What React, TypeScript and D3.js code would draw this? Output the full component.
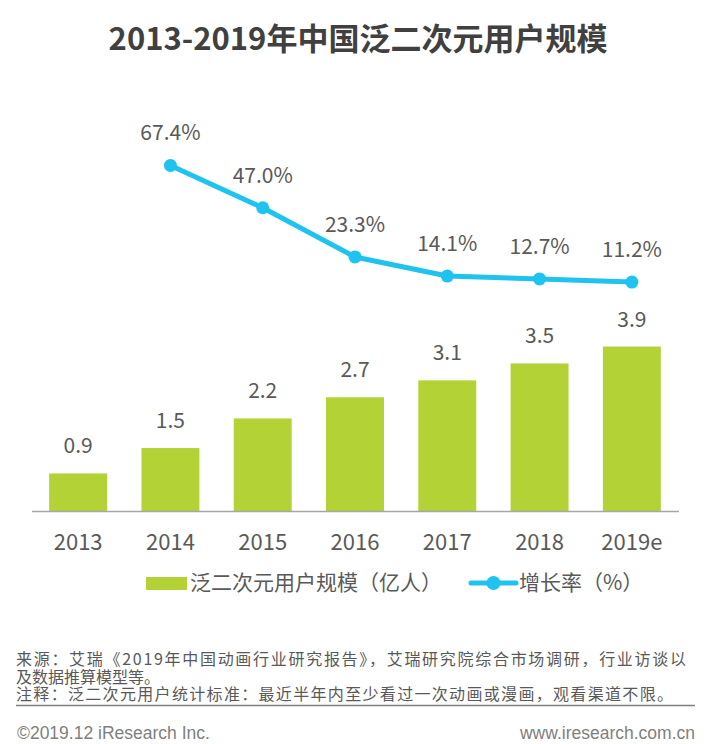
import React, { useEffect, useRef } from "react";
import * as d3 from "d3";

// data
const years = ["2013", "2014", "2015", "2016", "2017", "2018", "2019e"];
const users = [0.9, 1.5, 2.2, 2.7, 3.1, 3.5, 3.9]; // 亿人
const growth: (number | null)[] = [null, 67.4, 47.0, 23.3, 14.1, 12.7, 11.2]; // %
const barLegend = "泛二次元用户规模（亿人）";
const lineLegend = "增长率（%）";
const title = "2013-2019年中国泛二次元用户规模";
const notes = [
    "来源：艾瑞《2019年中国动画行业研究报告》，艾瑞研究院综合市场调研，行业访谈以",
    "及数据推算模型等。",
    "注释：泛二次元用户统计标准：最近半年内至少看过一次动画或漫画，观看渠道不限。",
];
const noteWidths = [670, 0, 657]; // 0 = natural width
const copyright = "©2019.12 iResearch Inc.";
const site = "www.iresearch.com.cn";

var W = 710, H = 744;
var barColor = "#b2d235";
var lineColor = "#1ec3ef";
var textColor = "#595959";
var cjk = "'Noto Sans CJK SC', 'Noto Sans', sans-serif";

function App() {
    const ref = useRef<SVGSVGElement>(null);

    useEffect(() => {
        draw();
    }, []);

    return (
        <svg ref={ref} width={W} height={H}
            style={{ position: "absolute", left: 0, top: 0, background: "#fff" }}></svg>
    );

    function draw() {
        var svg = d3.select(ref.current);
        svg.selectAll("*").remove();

        var x = d3.scaleBand<string>()
            .domain(years)
            .range([32, 678])
            .paddingInner(0.372)
            .paddingOuter(0.186);
        var yBar = d3.scaleLinear().domain([0, 4.5]).range([511.5, 321.15]);
        var yLine = d3.scaleLinear().domain([0, 80]).range([305.3, 139.3]);
        var cx = (d: string) => x(d)! + x.bandwidth() / 2;

        // title
        svg.append("text")
            .attr("x", 358)
            .attr("y", 50)
            .attr("text-anchor", "middle")
            .attr("font-family", cjk)
            .attr("font-weight", "bold")
            .attr("font-size", 31)
            .attr("fill", "#404040")
            .text(title);

        // bars
        svg.append("g")
            .selectAll("rect")
            .data(users)
            .enter()
            .append("rect")
            .attr("x", (d, i) => x(years[i])!)
            .attr("y", d => yBar(d))
            .attr("width", x.bandwidth())
            .attr("height", d => yBar(0) - yBar(d))
            .attr("fill", barColor);

        svg.append("g")
            .selectAll("text")
            .data(users)
            .enter()
            .append("text")
            .attr("x", (d, i) => cx(years[i]))
            .attr("y", d => yBar(d) - 20)
            .attr("text-anchor", "middle")
            .attr("font-family", cjk)
            .attr("font-size", 21)
            .attr("fill", textColor)
            .text(d => d.toFixed(1));

        // x axis
        svg.append("line")
            .attr("x1", 32)
            .attr("x2", 679)
            .attr("y1", yBar(0))
            .attr("y2", yBar(0))
            .attr("stroke", "#a6a6a6")
            .attr("stroke-width", 1.5);

        svg.append("g")
            .selectAll("text")
            .data(years)
            .enter()
            .append("text")
            .attr("x", d => cx(d))
            .attr("y", 550)
            .attr("text-anchor", "middle")
            .attr("font-family", cjk)
            .attr("font-size", 22)
            .attr("fill", textColor)
            .text(d => d);

        // growth line
        var pts = years
            .map((d, i) => ({ year: d, v: growth[i] }))
            .filter(p => p.v !== null) as { year: string, v: number }[];

        svg.append("path")
            .datum(pts)
            .attr("fill", "none")
            .attr("stroke", lineColor)
            .attr("stroke-width", 5)
            .attr("stroke-linejoin", "round")
            .attr("d", d3.line<{ year: string, v: number }>()
                .x(p => cx(p.year))
                .y(p => yLine(p.v)));

        svg.append("g")
            .selectAll("circle")
            .data(pts)
            .enter()
            .append("circle")
            .attr("cx", p => cx(p.year))
            .attr("cy", p => yLine(p.v))
            .attr("r", 6.5)
            .attr("fill", lineColor);

        svg.append("g")
            .selectAll("text")
            .data(pts)
            .enter()
            .append("text")
            .attr("x", p => cx(p.year))
            .attr("y", p => yLine(p.v) - 25)
            .attr("text-anchor", "middle")
            .attr("font-family", cjk)
            .attr("font-size", 21)
            .attr("fill", textColor)
            .text(p => p.v.toFixed(1) + "%");

        // legend
        var g = svg.append("g");
        g.append("rect")
            .attr("x", 146)
            .attr("y", 577)
            .attr("width", 41)
            .attr("height", 13)
            .attr("fill", barColor);
        g.append("text")
            .attr("x", 190)
            .attr("y", 590)
            .attr("font-family", cjk)
            .attr("font-size", 21)
            .attr("fill", textColor)
            .text(barLegend);
        g.append("line")
            .attr("x1", 471)
            .attr("x2", 516)
            .attr("y1", 583)
            .attr("y2", 583)
            .attr("stroke", lineColor)
            .attr("stroke-width", 5)
            .attr("stroke-linecap", "round");
        g.append("circle")
            .attr("cx", 493.5)
            .attr("cy", 583)
            .attr("r", 7)
            .attr("fill", lineColor);
        g.append("text")
            .attr("x", 519)
            .attr("y", 590)
            .attr("font-family", cjk)
            .attr("font-size", 21)
            .attr("fill", textColor)
            .text(lineLegend);

        // footer
        var notesG = svg.append("g");
        notes.forEach((d, i) => {
            var t = notesG.append("text")
                .attr("x", 16)
                .attr("y", 665 + i * 17.5)
                .attr("font-family", cjk)
                .attr("font-size", 16)
                .attr("fill", textColor)
                .text(d);
            if (noteWidths[i] > 0)
                t.attr("textLength", noteWidths[i]).attr("lengthAdjust", "spacing");
        });

        svg.append("line")
            .attr("x1", 16)
            .attr("x2", 695)
            .attr("y1", 705.5)
            .attr("y2", 705.5)
            .attr("stroke", "#7f7f7f")
            .attr("stroke-width", 1.5);

        svg.append("text")
            .attr("x", 17)
            .attr("y", 739)
            .attr("font-family", "'Liberation Sans', Arial, sans-serif")
            .attr("font-size", 17.5)
            .attr("fill", "#7f7f7f")
            .text(copyright);
        svg.append("text")
            .attr("x", 695)
            .attr("y", 739)
            .attr("text-anchor", "end")
            .attr("font-family", "'Liberation Sans', Arial, sans-serif")
            .attr("font-size", 17.5)
            .attr("fill", "#7f7f7f")
            .text(site);
    }
}

export default App;
